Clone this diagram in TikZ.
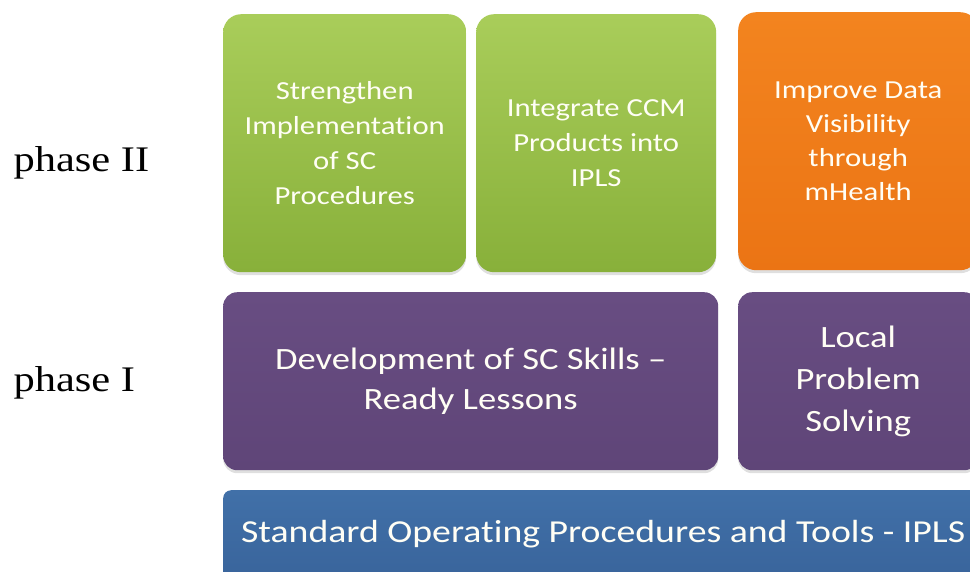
\documentclass[tikz,border=0pt]{standalone}
\usepackage{fontspec}
\setmainfont{Liberation Serif}[FakeStretch=1.18]
\setsansfont{Carlito}[FakeStretch=1.18,Ligatures=NoCommon]
\usetikzlibrary{positioning,shadows}
\definecolor{planGreenTop}{HTML}{A9CD5A}
\definecolor{planGreenBot}{HTML}{88B03A}
\definecolor{planOrangeTop}{HTML}{F3841F}
\definecolor{planOrangeBot}{HTML}{EB7414}
\definecolor{planPurple}{HTML}{684D82}
\definecolor{planPurpleBot}{HTML}{5F4578}
\definecolor{planBlue}{HTML}{4170A8}
\definecolor{planBlueBot}{HTML}{38639A}
\tikzset{
  block/.style={
    rectangle, rounded corners=18pt, anchor=north west,
    align=center, font=\sffamily, text=white!96!yellow,
    inner sep=4pt,
    drop shadow={opacity=0.25, shadow xshift=0pt, shadow yshift=-3pt}
  },
  goal/.style={block, top color=planGreenTop, bottom color=planGreenBot,
    minimum width=243pt, minimum height=258pt,
    font=\sffamily\fontsize{26}{35}\selectfont},
  mobile/.style={block, top color=planOrangeTop, bottom color=planOrangeBot,
    minimum width=240pt, minimum height=258pt,
    font=\sffamily\fontsize{26}{34}\selectfont},
  skill/.style={block, rounded corners=14pt, top color=planPurple, bottom color=planPurpleBot,
    minimum height=178pt, font=\sffamily\fontsize{31}{40}\selectfont},
  base/.style={block, rounded corners=8pt, top color=planBlue, bottom color=planBlueBot,
    minimum width=760pt, minimum height=100pt,
    font=\sffamily\fontsize{32}{38}\selectfont},
  phase/.style={font=\rmfamily\fontsize{36}{40}\selectfont, anchor=west}
}
\begin{document}
\begin{tikzpicture}[x=1pt,y=-1pt]
  \useasboundingbox (0,0) rectangle (970,571);
  % phase II row
  \node[goal, minimum width=243pt] (strengthen) at (223,14)
    {Strengthen\\Implementation\\of SC\\Procedures};
  \node[goal, minimum width=240pt] (integrate) at (476,14)
    {Integrate CCM\\Products into\\IPLS};
  \node[mobile] (mhealth) at (738,12)
    {Improve Data\\Visibility\\through\\mHealth};
  % phase I row
  \node[skill, minimum width=495pt] (lessons) at (223,292)
    {Development of SC Skills --\\Ready Lessons};
  \node[skill, minimum width=240pt, font=\sffamily\fontsize{31}{42}\selectfont] (local) at (738,292)
    {Local\\Problem\\Solving};
  % foundation
  \node[base, text height=24pt, text depth=20pt] (sop) at (223,490)
    {Standard Operating Procedures and Tools - IPLS};
  % phase labels
  \node[phase] (phasetwo) at (10,163) {phase II};
  \node[phase] (phaseone) at (10,383) {phase I};
\end{tikzpicture}
\end{document}
